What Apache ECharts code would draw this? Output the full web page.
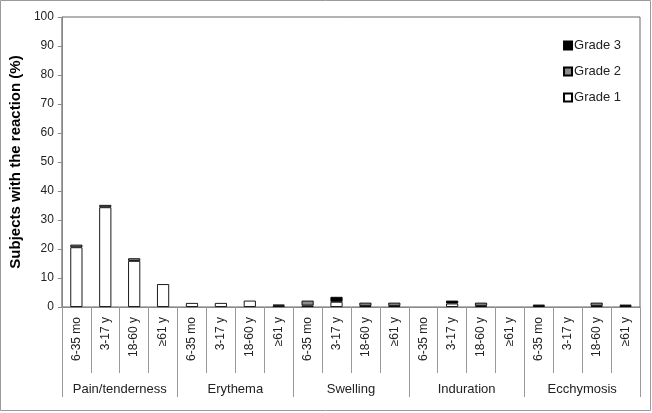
<!DOCTYPE html>
<html>
<head>
<meta charset="utf-8">
<script src="https://cdn.jsdelivr.net/npm/echarts@6/dist/echarts.min.js"></script>
<style>
html,body{margin:0;padding:0;background:#fff;}
#chart{width:652px;height:413px;}
</style>
</head>
<body>
<div id="chart"></div>
<script>
var groups = ['Pain/tenderness', 'Erythema', 'Swelling', 'Induration', 'Ecchymosis'];
var ages = ['6-35 mo', '3-17 y', '18-60 y', '\u226561 y'];
var yTicks = [0, 10, 20, 30, 40, 50, 60, 70, 80, 90, 100];
var grade1 = [20.6, 34.4, 15.9, 7.9,  1.4, 1.4, 2.2, 0.5,  0.5, 1.8, 0.4, 0.4,  0, 1.2, 0.4, 0,  0.4, 0, 0.4, 0.4];
var grade2 = [0.9, 0.8, 0.9, 0,  0, 0, 0, 0.3,  1.7, 0, 1.1, 1.1,  0, 0, 1.1, 0,  0.4, 0, 1.1, 0.4];
var grade3 = [0, 0, 0, 0,  0, 0, 0, 0,  0, 1.7, 0, 0,  0, 1.0, 0, 0,  0, 0, 0, 0];

var categories = [];
groups.forEach(function (g) { ages.forEach(function (a) { categories.push(a); }); });

var font = 'Liberation Sans, Arial, sans-serif';
var chart = echarts.init(document.getElementById('chart'), null, {renderer: 'canvas'});
function mk(name, data, color) {
  return {
    name: name, type: 'bar', stack: 'all', barWidth: '42%',
    data: data.map(function (v) { return v === 0 ? null : v; }),
    xAxisIndex: 0,
    itemStyle: {color: color, borderColor: '#000', borderWidth: 0.9},
    emphasis: {disabled: true}
  };
}
chart.setOption({
  animation: false,
  backgroundColor: '#fff',
  graphic: [{
    type: 'rect', shape: {x: 0.5, y: 0.5, width: 650, height: 410},
    style: {fill: 'none', stroke: '#9a9a9a', lineWidth: 1}, silent: true
  }],
  grid: {left: 57.5, right: 12, top: 17, bottom: 106, show: true, borderColor: '#666', borderWidth: 1, backgroundColor: 'transparent'},
  legend: {
    orient: 'vertical', right: 26, top: 34, itemGap: 13,
    itemWidth: 8, itemHeight: 8, icon: 'rect',
    data: ['Grade 3', 'Grade 2', 'Grade 1'],
    textStyle: {fontFamily: font, fontSize: 13, color: '#222', padding: [0, 0, 0, -3]}
  },
  xAxis: [{
    type: 'category', data: categories, position: 'bottom',
    axisLine: {lineStyle: {color: '#888', width: 1}},
    axisTick: {show: true, interval: 0, length: 66, lineStyle: {color: '#999'}},
    axisLabel: {interval: 0, rotate: 90, margin: 10, fontFamily: font, fontSize: 12, color: '#222'}
  }, {
    type: 'category', data: groups, position: 'bottom',
    axisLine: {show: false},
    axisTick: {show: true, interval: 0, length: 90, lineStyle: {color: '#999'}},
    axisLabel: {interval: 0, margin: 76, fontFamily: font, fontSize: 13, color: '#222'}
  }],
  yAxis: {
    type: 'value', min: 0, max: 100, interval: 10,
    name: 'Subjects with the reaction (%)', nameLocation: 'middle', nameGap: 34,
    nameTextStyle: {fontFamily: font, fontSize: 15, fontWeight: 'bold', color: '#000'},
    axisLine: {show: true, lineStyle: {color: '#888'}},
    axisTick: {show: true, length: 4, lineStyle: {color: '#888'}},
    splitLine: {show: false},
    axisLabel: {fontFamily: font, fontSize: 12, color: '#222', margin: 8,
      formatter: function (v) { return yTicks.indexOf(v) >= 0 ? String(v) : ''; }}
  },
  series: [
    mk('Grade 1', grade1, '#ffffff'),
    mk('Grade 2', grade2, '#8c8c8c'),
    mk('Grade 3', grade3, '#000000')
  ]
});
</script>
</body>
</html>
